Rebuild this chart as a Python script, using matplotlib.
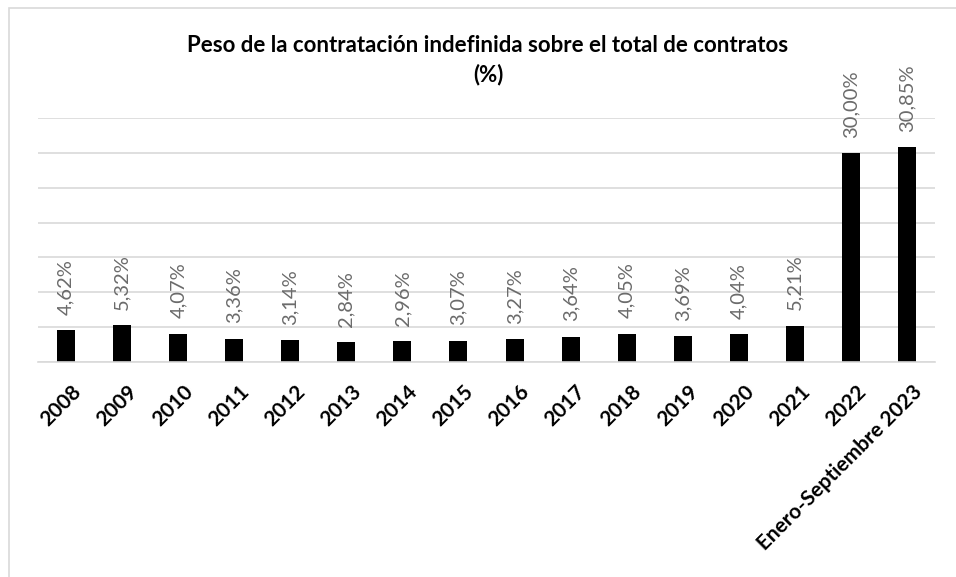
import matplotlib.pyplot as plt
import matplotlib.transforms as mtransforms
from matplotlib.patches import Rectangle
import numpy as np

plt.rcParams['font.family'] = ['Lato', 'DejaVu Sans']

categorias = ['2008', '2009', '2010', '2011', '2012', '2013', '2014', '2015',
              '2016', '2017', '2018', '2019', '2020', '2021', '2022',
              'Enero-Septiembre 2023']
valores = [4.62, 5.32, 4.07, 3.36, 3.14, 2.84, 2.96, 3.07,
           3.27, 3.64, 4.05, 3.69, 4.04, 5.21, 30.00, 30.85]
etiquetas = ['4,62%', '5,32%', '4,07%', '3,36%', '3,14%', '2,84%', '2,96%', '3,07%',
             '3,27%', '3,64%', '4,05%', '3,69%', '4,04%', '5,21%', '30,00%', '30,85%']

fig = plt.figure(figsize=(9.56, 5.77), dpi=100)
# marco gris del grafico
fig.patches.append(Rectangle((9/956, -0.05), 1.1, 1 - 8/577 + 0.05, transform=fig.transFigure,
                             fill=False, edgecolor='#d9d9d9', linewidth=1.2))

ax = fig.add_axes([38/956, 1 - 362/577, 897/956, 244/577])
x = np.arange(len(categorias))
barras = ax.bar(x, valores, width=0.32, color='black', zorder=3)

for rect, txt in zip(barras, etiquetas):
    h = rect.get_height()
    ax.annotate(txt, (rect.get_x() + rect.get_width() / 2, h), xytext=(0, 11),
                textcoords='offset points', rotation=90, ha='center', va='bottom',
                fontsize=14.5, color='#6b6b6b')

ax.set_xlim(-0.5, len(categorias) - 0.5)
ax.set_ylim(0, 35)
ax.set_yticks(np.arange(0, 36, 5))
ax.yaxis.grid(True, color='#d9d9d9', linewidth=1.2, zorder=0)
ax.tick_params(axis='y', left=False, labelleft=False)
ax.tick_params(axis='x', length=0, pad=14)
ax.set_xticks(x)
ax.set_xticklabels(categorias, rotation=45, ha='right', rotation_mode='anchor',
                   fontsize=15, fontweight='bold')
desplaza = mtransforms.ScaledTranslation(5/100, 0, fig.dpi_scale_trans)
for lab in ax.get_xticklabels():
    lab.set_transform(lab.get_transform() + desplaza)
for s in ['top', 'right', 'left']:
    ax.spines[s].set_visible(False)
ax.spines['bottom'].set_color('#d9d9d9')
ax.spines['bottom'].set_linewidth(1.2)
ax.spines['bottom'].set_zorder(4)

fig.text(488/956, 1 - 60/577, 'Peso de la contratación indefinida sobre el total de contratos\n(%)',
         ha='center', va='center', fontsize=16, fontweight='bold', linespacing=1.4)

fig.savefig('out.png', dpi=100)
